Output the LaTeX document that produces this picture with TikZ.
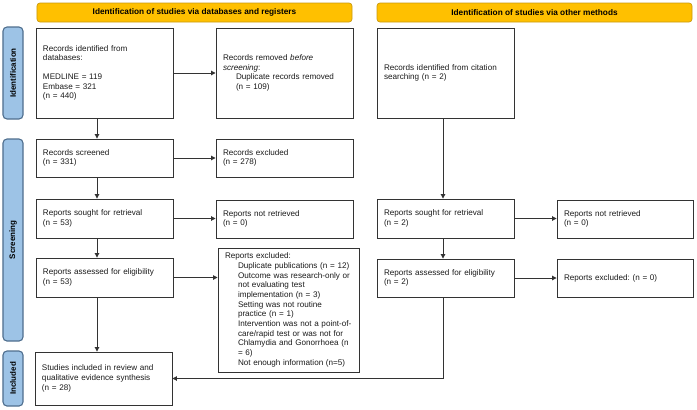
\documentclass[tikz,border=0pt]{standalone}
\usepackage{fontspec}
\setmainfont{Liberation Sans}
\usetikzlibrary{arrows.meta,calc}
\definecolor{banfill}{HTML}{FFC000}
\definecolor{banline}{HTML}{C99A10}
\definecolor{barfill}{HTML}{9DC3E6}
\definecolor{barline}{HTML}{4F6E8E}
\definecolor{boxline}{HTML}{333333}
\definecolor{txt}{HTML}{1A1A1A}
\frenchspacing
\begin{document}
\begin{tikzpicture}[x=1bp,y=-1bp,
  box/.style={draw=boxline, line width=0.9bp, inner xsep=7bp, inner ysep=0pt,
    align=left, text=txt, font=\fontsize{8.15}{9.7}\selectfont\frenchspacing},
  ban/.style={draw=banline, fill=banfill, line width=0.7bp, rounded corners=3bp,
    minimum width=315bp, minimum height=19bp, inner sep=0pt,
    font=\fontsize{8.3}{9.5}\selectfont\bfseries},
  sidebar/.style={draw=barline, fill=barfill, line width=1.1bp, rounded corners=4bp,
    rotate=90, minimum height=20bp, inner sep=0pt,
    font=\fontsize{8}{9}\selectfont\bfseries},
  arr/.style={draw=boxline, line width=0.9bp, -{Triangle[length=4.5bp,width=4.5bp]}},
  ln/.style={draw=boxline, line width=0.9bp}]
\useasboundingbox (0,0) rectangle (697,409);

% banners
\node[ban] (banL) at (194.5,12.5) {Identification of studies via databases and registers};
\node[ban] (banR) at (534.5,12.5) {Identification of studies via other methods};

% side bars
\node[sidebar, minimum width=92bp] (barI) at (13,73) {Identification};
\node[sidebar, minimum width=202bp] (barS) at (13,240) {Screening};
\node[sidebar, minimum width=55bp] (barN) at (13,378.5) {Included};

% left column
\node[box, text width=123bp, minimum height=90bp] (id) at (104.5,73)
  {Records identified from\\databases:\\[9bp]MEDLINE = 119\\Embase = 321\\(n = 440)};
\node[box, text width=123bp, minimum height=38bp] (scr) at (104.5,158)
  {Records screened\\(n = 331)};
\node[box, text width=123bp, minimum height=39bp] (soughtL) at (104.5,218.5)
  {Reports sought for retrieval\\(n = 53)};
\node[box, text width=123bp, minimum height=39bp] (assL) at (104.5,277.5)
  {Reports assessed for eligibility\\(n = 53)};
\node[box, text width=123bp, minimum height=53bp] (inc) at (103.5,378.5)
  {Studies included in review and\\qualitative evidence synthesis\\(n = 28)};

% middle column
\node[box, text width=123bp, minimum height=90bp] (rem) at (284.5,73)
  {Records removed \textit{before}\\\textit{screening}:\\\hspace*{13bp}Duplicate records removed\\\hspace*{13bp}(n = 109)};
\node[box, text width=123bp, minimum height=38bp] (exc) at (284.5,158)
  {Records excluded\\(n = 278)};
\node[box, text width=123bp, minimum height=38bp] (notretL) at (284.5,219)
  {Reports not retrieved\\(n = 0)};
\node[box, text width=127bp, minimum height=124bp] (exclL) at (288.5,310)
  {Reports excluded:\\
   \hspace*{13bp}Duplicate publications (n = 12)\\
   \hspace*{13bp}Outcome was research-only or\\
   \hspace*{13bp}not evaluating test\\
   \hspace*{13bp}implementation (n = 3)\\
   \hspace*{13bp}Setting was not routine\\
   \hspace*{13bp}practice (n = 1)\\
   \hspace*{13bp}Intervention was not a point-of-\\
   \hspace*{13bp}care/rapid test or was not for\\
   \hspace*{13bp}Chlamydia and Gonorrhoea (n\\
   \hspace*{13bp}= 6)\\
   \hspace*{13bp}Not enough information (n=5)};

% right columns
\node[box, text width=123bp, minimum height=90bp] (cit) at (445.5,73)
  {Records identified from citation\\searching (n = 2)};
\node[box, text width=123bp, minimum height=39bp] (soughtR) at (445.5,218.5)
  {Reports sought for retrieval\\(n = 2)};
\node[box, text width=123bp, minimum height=38bp] (assR) at (445.5,278)
  {Reports assessed for eligibility\\(n = 2)};
\node[box, text width=122bp, minimum height=38bp] (notretR) at (625,219)
  {Reports not retrieved\\(n = 0)};
\node[box, text width=122bp, minimum height=38bp] (exclR) at (625,278)
  {Reports excluded: (n = 0)};

% column guide coordinates
\coordinate (colL) at (97,0);
\coordinate (colR) at (443,0);

% connectors
\draw[arr] (id.south -| colL) -- (scr.north -| colL);
\draw[arr] (scr.south -| colL) -- (soughtL.north -| colL);
\draw[arr] (soughtL.south -| colL) -- (assL.north -| colL);
\draw[arr] (assL.south -| colL) -- (inc.north -| colL);

\draw[arr] (id.east) -- (rem.west);
\draw[arr] (scr.east) -- (exc.west);
\draw[arr] (soughtL.east) -- (soughtL.east -| notretL.west);
\draw[arr] (assL.east) -- (assL.east -| exclL.west);

\draw[arr] (cit.south -| colR) -- (soughtR.north -| colR);
\draw[arr] (soughtR.south -| colR) -- (assR.north -| colR);
\draw[arr] (soughtR.east) -- (soughtR.east -| notretR.west);
\draw[arr] (assR.east) -- (exclR.west);
\draw[arr] (assR.south -| colR) |- (inc.east);
\end{tikzpicture}
\end{document}
